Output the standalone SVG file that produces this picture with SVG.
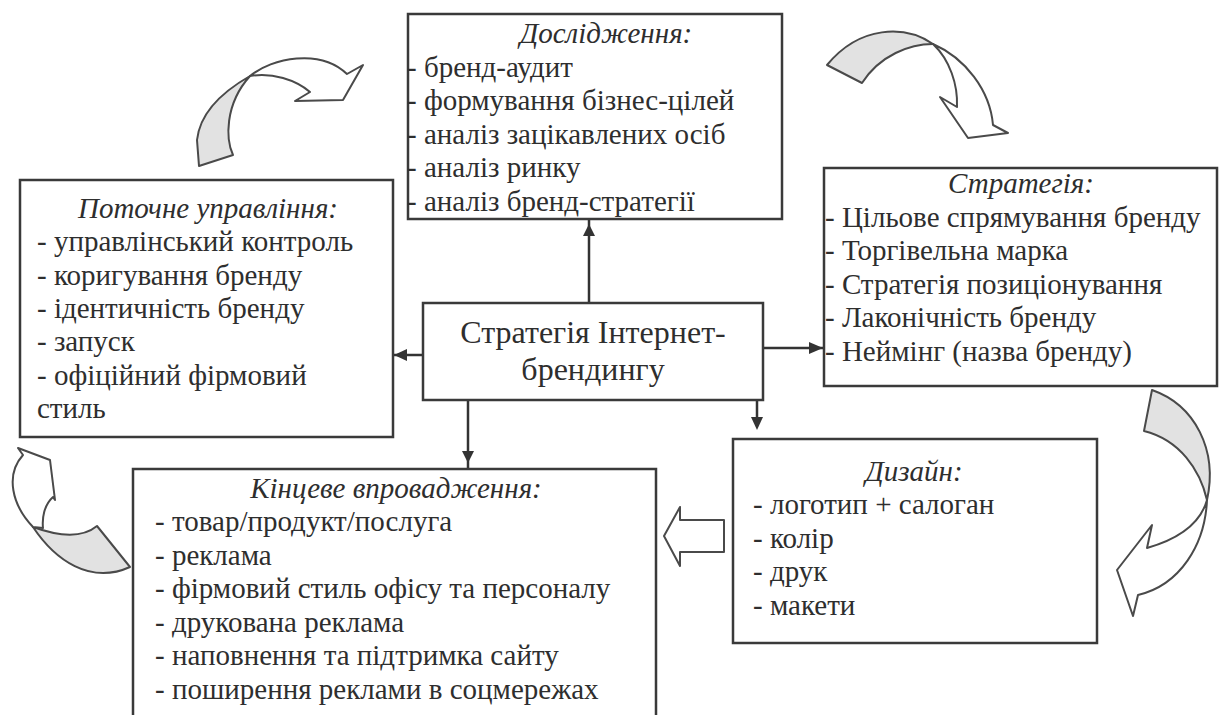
<svg xmlns="http://www.w3.org/2000/svg" width="1222" height="715" viewBox="0 0 1222 715">
<style>
.box{fill:#fff;stroke:#3a3a3a;stroke-width:2.5}
.t{font-family:"Liberation Serif","Times New Roman",serif;font-size:29px;fill:#2e2e2e}
.ti{font-family:"Liberation Serif","Times New Roman",serif;font-size:29px;font-style:italic;fill:#2e2e2e;text-anchor:middle}
.tc{font-family:"Liberation Serif","Times New Roman",serif;font-size:32px;fill:#2e2e2e;text-anchor:middle}
.ln{stroke:#333;stroke-width:2.5;fill:none}
.ah{fill:#333;stroke:none}
.cw{fill:#fff;stroke:#4a4a4a;stroke-width:2;stroke-linejoin:round}
.cs{fill:#e2e2e2;stroke:#4a4a4a;stroke-width:2;stroke-linejoin:round}
</style>
<rect width="1222" height="715" fill="#fff"/>

<g id="connectors">
<line class="ln" x1="589" y1="303" x2="589" y2="219"/>
<polygon class="ah" points="589,224 583,236 595,236"/>
<line class="ln" x1="423" y1="355" x2="393" y2="355"/>
<polygon class="ah" points="394,355 407,349 407,361"/>
<line class="ln" x1="763" y1="348" x2="824" y2="348"/>
<polygon class="ah" points="823,348 809,342 809,354"/>
<line class="ln" x1="468" y1="400" x2="468" y2="469"/>
<polygon class="ah" points="468,463 462,451 474,451"/>
<line class="ln" x1="757" y1="400" x2="757" y2="420"/>
<polygon class="ah" points="757,430 751,417 763,417"/>
<polygon id="hollow-arrow" class="cw" points="664,536 680,507 680,520 724,520 724,552 680,552 680,566"/>
</g>

<g id="curved-top-left">
<path class="cs" d="M250,76 C222,92 200,112 197,140 L199,166 L233,155 C226,140 224,105 250,76 Z"/>
<path class="cw" d="M250,76 C272,58 320,48 347,74 L363,65 L343,100 L295,101 L310,92 C296,80 272,72 250,76 Z"/>
</g>
<g id="curved-top-right">
<path class="cs" d="M933,44 C905,25 860,25 827,65 L862,83 C880,55 910,44 933,44 Z"/>
<path class="cw" d="M933,44 C965,58 990,90 993,125 L1008,133 L968,138 L940,97 L957,107 C958,85 950,60 933,44 Z"/>
</g>
<g id="curved-right">
<path class="cs" d="M1152,390 C1195,405 1218,450 1207,500 C1200,470 1180,440 1144,431 Z"/>
<path class="cw" d="M1207,500 C1205,545 1180,585 1138,595 L1133,616 L1117,570 L1152,525 L1147,548 C1175,540 1200,525 1207,500 Z"/>
</g>
<g id="curved-bottom-left">
<path class="cs" d="M33,527 C55,560 90,585 130,567 L97,526 C80,540 55,535 33,527 Z"/>
<path class="cw" d="M33,527 C12,505 5,475 23,455 L18,448 L50,460 L55,500 L53,497 C44,505 42,518 43,528 Z"/>
</g>

<g id="research">
<rect class="box" x="408" y="14" width="374" height="205"/>
<text class="ti" x="606" y="43">Дослідження:</text>
<text class="t" x="407" y="76.5">- бренд-аудит</text>
<text class="t" x="407" y="110">- формування бізнес-цілей</text>
<text class="t" x="407" y="143.5">- аналіз зацікавлених осіб</text>
<text class="t" x="407" y="177">- аналіз ринку</text>
<text class="t" x="407" y="210.5">- аналіз бренд-стратегії</text>
</g>

<g id="management">
<rect class="box" x="20" y="180" width="373" height="257"/>
<text class="ti" x="208" y="218">Поточне управління:</text>
<text class="t" x="37" y="251">- управлінський контроль</text>
<text class="t" x="37" y="285">- коригування бренду</text>
<text class="t" x="37" y="318">- ідентичність бренду</text>
<text class="t" x="37" y="351">- запуск</text>
<text class="t" x="37" y="385">- офіційний фірмовий</text>
<text class="t" x="37" y="418">стиль</text>
</g>

<g id="strategy">
<rect class="box" x="824" y="168" width="393" height="218"/>
<text class="ti" x="1021" y="193">Стратегія:</text>
<text class="t" x="825" y="226.5">- Цільове спрямування бренду</text>
<text class="t" x="825" y="260">- Торгівельна марка</text>
<text class="t" x="825" y="293.5">- Стратегія позиціонування</text>
<text class="t" x="825" y="327">- Лаконічність бренду</text>
<text class="t" x="825" y="360.5">- Неймінг (назва бренду)</text>
</g>

<g id="center">
<rect class="box" x="423" y="303" width="340" height="97"/>
<text class="tc" x="593" y="343">Стратегія Інтернет-</text>
<text class="tc" x="593" y="380">брендингу</text>
</g>

<g id="design">
<rect class="box" x="733" y="439" width="364" height="204"/>
<text class="ti" x="914" y="481">Дизайн:</text>
<text class="t" x="753" y="514">- логотип + салоган</text>
<text class="t" x="753" y="548">- колір</text>
<text class="t" x="753" y="581">- друк</text>
<text class="t" x="753" y="615">- макети</text>
</g>

<g id="final">
<path class="box" d="M133,717 L133,469 L656,469 L656,717"/>
<text class="ti" x="396" y="498">Кінцеве впровадження:</text>
<text class="t" x="155" y="531">- товар/продукт/послуга</text>
<text class="t" x="155" y="565">- реклама</text>
<text class="t" x="155" y="598">- фірмовий стиль офісу та персоналу</text>
<text class="t" x="155" y="632">- друкована реклама</text>
<text class="t" x="155" y="665">- наповнення та підтримка сайту</text>
<text class="t" x="155" y="699">- поширення реклами в соцмережах</text>
</g>
</svg>
